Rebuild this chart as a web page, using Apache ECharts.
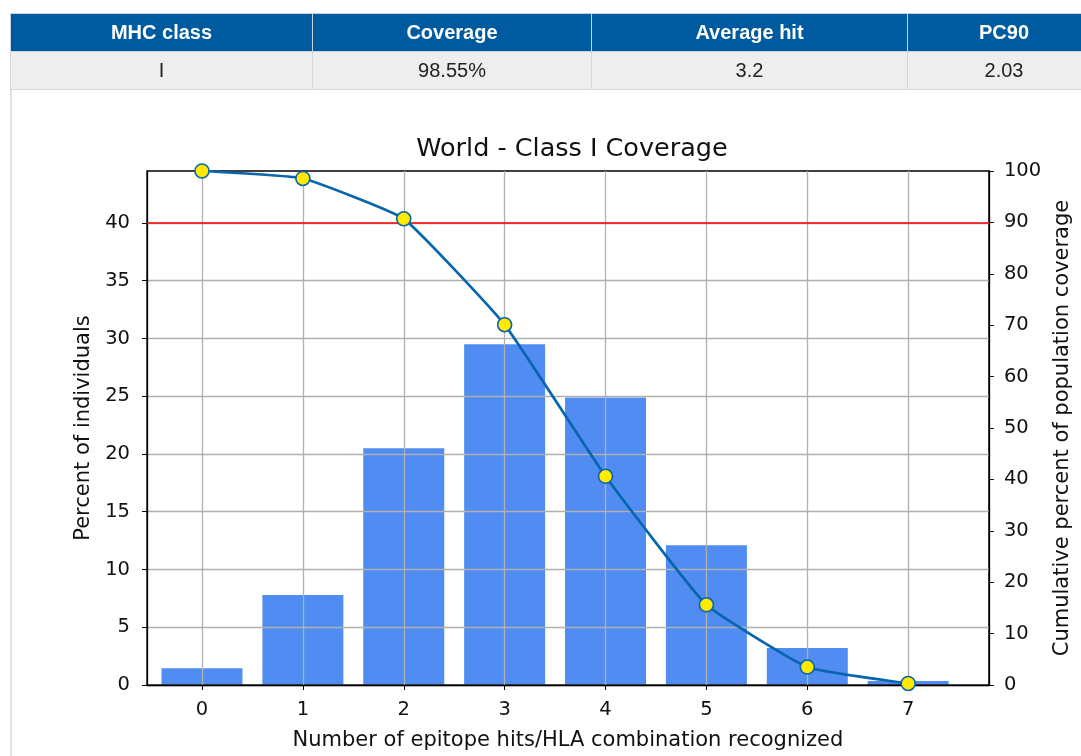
<!DOCTYPE html>
<html>
<head>
<meta charset="utf-8">
<script src="https://cdn.jsdelivr.net/npm/echarts@6/dist/echarts.min.js"></script>
<style>
  html, body { margin: 0; padding: 0; background: #fff; width: 1081px; height: 756px; overflow: hidden; }
  #chart { position: absolute; left: 0; top: 0; width: 1081px; height: 756px; }
  #tbl { position: absolute; left: 10px; top: 13px; border-collapse: collapse; table-layout: fixed; width: 1090px; z-index: 2;
         font-family: "Liberation Sans", Arial, sans-serif; font-size: 20px; }
  #tbl th { background: #005a9f; color: #fff; font-weight: bold; height: 37px; padding: 0; border: 1px solid #c9d3dd; text-align: center; }
  #tbl td { background: #eeeeee; color: #222; height: 37px; padding: 0; border: 1px solid #d6d6d6; text-align: center; }
  #leftborder { position: absolute; left: 10px; top: 90px; width: 2px; height: 670px; background: #e2e2e2; }
</style>
</head>
<body>
<div id="chart"></div>
<div id="leftborder"></div>
<table id="tbl"><colgroup><col style="width:302px"><col style="width:279px"><col style="width:316px"><col style="width:193px"></colgroup>
<thead><tr id="hdr"></tr></thead><tbody><tr id="row"></tr></tbody></table>
<script>
// ---- table data ----
const tableHeaders = ['MHC class', 'Coverage', 'Average hit', 'PC90'];
const tableValues = ['I', '98.55%', '3.2', '2.03'];

// ---- chart data ----
const titleText = 'World - Class I Coverage';
const hitCounts = [0, 1, 2, 3, 4, 5, 6, 7];
const percentIndividuals = [1.45, 7.8, 20.5, 29.5, 24.9, 12.1, 3.2, 0.35];
const cumulativeCoverage = [100, 98.55, 90.7, 70.1, 40.6, 15.6, 3.5, 0.3];
const leftTicks = [0, 5, 10, 15, 20, 25, 30, 35, 40];
const thresholdLeft = 40; // corresponds to 90% on right axis

document.getElementById('hdr').innerHTML = tableHeaders.map(h => '<th>' + h + '</th>').join('');
document.getElementById('row').innerHTML = tableValues.map(v => '<td>' + v + '</td>').join('');

const font = 'DejaVu Sans';
const chart = echarts.init(document.getElementById('chart'), null, { renderer: 'canvas' });
chart.setOption({
  animation: false,
  backgroundColor: 'transparent',
  title: {
    text: titleText, left: 567, top: 131, textAlign: 'center',
    textStyle: { fontFamily: font, fontSize: 25.5, fontWeight: 'normal', color: '#111' }
  },
  grid: { left: 147, right: 91, top: 171, bottom: 71, show: true, borderColor: '#000', borderWidth: 1.3, backgroundColor: 'transparent' },
  xAxis: {
    type: 'value', min: -0.545, max: 7.8,
    name: 'Number of epitope hits/HLA combination recognized', nameLocation: 'middle', nameGap: 45,
    nameTextStyle: { fontFamily: font, fontSize: 21, color: '#111' },
    axisLine: { show: true, onZero: false, lineStyle: { color: '#000', width: 1.3 } },
    axisTick: { show: true, length: 5, lineStyle: { color: '#000' }, customValues: hitCounts },
    axisLabel: { fontFamily: font, fontSize: 19.5, color: '#111', margin: 15, customValues: hitCounts },
    splitLine: { show: true, lineStyle: { color: '#b0b0b0', width: 1.3 } }
  },
  yAxis: [
    {
      type: 'value', min: 0, max: 44.5, position: 'left',
      name: 'Percent of individuals', nameLocation: 'middle', nameGap: 53,
      nameTextStyle: { fontFamily: font, fontSize: 21, color: '#111' },
      axisLine: { show: true, onZero: false, lineStyle: { color: '#000', width: 1.3 } },
      axisTick: { show: true, length: 5, lineStyle: { color: '#000' }, customValues: leftTicks },
      axisLabel: { fontFamily: font, fontSize: 19.5, color: '#111', margin: 17, customValues: leftTicks },
      splitLine: { show: true, lineStyle: { color: '#b0b0b0', width: 1.3 } }
    },
    {
      type: 'value', min: 0, max: 100, interval: 10, position: 'right',
      name: 'Cumulative percent of population coverage', nameLocation: 'middle', nameGap: 62,
      nameTextStyle: { fontFamily: font, fontSize: 21, color: '#111' },
      axisLine: { show: true, onZero: false, lineStyle: { color: '#000', width: 1.3 } },
      axisTick: { show: true, length: 5, lineStyle: { color: '#000' } },
      axisLabel: { fontFamily: font, fontSize: 19.5, color: '#111', margin: 15 },
      splitLine: { show: false }
    }
  ],
  series: [
    {
      type: 'bar', yAxisIndex: 0, z: -1, barWidth: 81,
      itemStyle: { color: '#518cf2' },
      data: hitCounts.map((c, i) => [c, percentIndividuals[i]])
    },
    {
      type: 'line', yAxisIndex: 1, z: 5, smooth: 0.12,
      lineStyle: { color: '#0766ad', width: 2.7 },
      symbol: 'circle', symbolSize: 14,
      itemStyle: { color: '#ffea00', borderColor: '#0766ad', borderWidth: 1.6 },
      data: hitCounts.map((c, i) => [c, cumulativeCoverage[i]]),
      markLine: {
        silent: true, symbol: 'none', label: { show: false }, z: 1,
        lineStyle: { color: '#ff0000', width: 1.5, type: 'solid' },
        data: [{ yAxis: thresholdLeft * 100 / 44.5 }]
      }
    }
  ]
});
</script>
</body>
</html>
